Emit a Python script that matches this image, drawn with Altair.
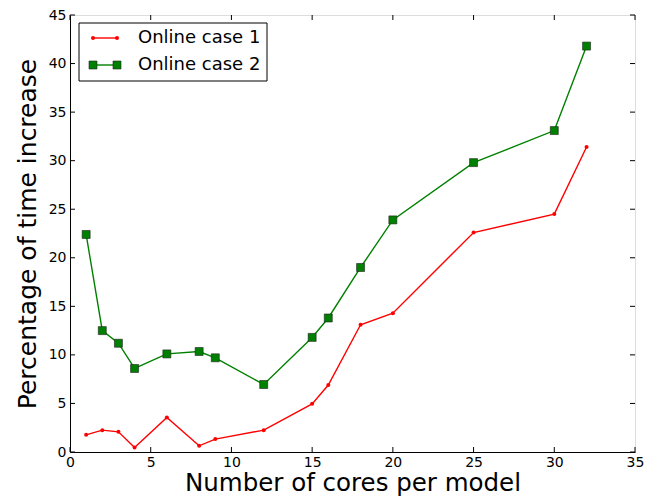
import altair as alt
import pandas as pd

# ---- data ----
cores = [1, 2, 3, 4, 6, 8, 9, 12, 15, 16, 18, 20, 25, 30, 32]
case1 = [1.77, 2.25, 2.08, 0.47, 3.56, 0.64, 1.33, 2.25, 4.96, 6.9, 13.1, 14.3, 22.6, 24.5, 31.4]
case2 = [22.4, 12.5, 11.2, 8.6, 10.1, 10.35, 9.7, 6.95, 11.8, 13.8, 19.0, 23.9, 29.8, 33.1, 41.8]
series_names = ["Online case 1", "Online case 2"]
red, green = "#ff0000", "#008000"
x_ticks = [0, 5, 10, 15, 20, 25, 30, 35]
y_ticks = [0, 5, 10, 15, 20, 25, 30, 35, 40, 45]

W, H = 565, 437
FONT = "DejaVu Sans"

df1 = pd.DataFrame({"cores": cores, "pct": case1})
df2 = pd.DataFrame({"cores": cores, "pct": case2})
xt = pd.DataFrame({"cores": x_ticks})
yt = pd.DataFrame({"pct": y_ticks})

xs = alt.Scale(domain=[0, 35], nice=False, zero=False)
ys = alt.Scale(domain=[0, 45], nice=False, zero=False)

xenc = alt.X("cores:Q", scale=xs, axis=alt.Axis(
    values=x_ticks, title="Number of cores per model", ticks=False, grid=False,
    labelFontSize=14, titleFontSize=24.5, labelPadding=3, titlePadding=2,
    labelFlush=False, labelOverlap=False, domainColor="black", labelColor="black",
    titleColor="black", titleFontWeight="normal", labelFont=FONT, titleFont=FONT))
yenc = alt.Y("pct:Q", scale=ys, axis=alt.Axis(
    values=y_ticks, title="Percentage of time increase", ticks=False, grid=False,
    labelFontSize=14, titleFontSize=25, labelPadding=4, titlePadding=8,
    labelFlush=False, labelOverlap=False, domainColor="black", labelColor="black",
    titleColor="black", titleFontWeight="normal", labelFont=FONT, titleFont=FONT))

line1 = alt.Chart(df1).mark_line(color=red, strokeWidth=1.4).encode(x=xenc, y=yenc)
pts1 = alt.Chart(df1).mark_point(shape="circle", filled=True, color=red, size=16, opacity=1).encode(x=xenc, y=yenc)
line2 = alt.Chart(df2).mark_line(color=green, strokeWidth=1.4).encode(x=xenc, y=yenc)
pts2 = alt.Chart(df2).mark_point(shape="square", filled=True, fill=green, stroke="#222222",
                                 strokeWidth=0.6, size=64, opacity=1).encode(x=xenc, y=yenc)

# inward ticks on all four sides
tb = alt.Chart(xt).mark_rule(color="black", strokeWidth=1).encode(x=xenc, y=alt.value(H), y2=alt.value(H - 5))
tt = alt.Chart(xt).mark_rule(color="black", strokeWidth=1).encode(x=xenc, y=alt.value(0), y2=alt.value(5))
tl = alt.Chart(yt).mark_rule(color="black", strokeWidth=1).encode(y=yenc, x=alt.value(0), x2=alt.value(5))
tr = alt.Chart(yt).mark_rule(color="black", strokeWidth=1).encode(y=yenc, x=alt.value(W), x2=alt.value(W - 5))

# legend
ld1 = pd.DataFrame({"name": [series_names[0]]})
ld2 = pd.DataFrame({"name": [series_names[1]]})
box = alt.Chart(ld1).mark_rect(fill="white", stroke="black", strokeWidth=1).encode(
    x=alt.value(9), x2=alt.value(197), y=alt.value(8), y2=alt.value(66))
r1y, r2y = 23, 50
lx0, lx1, tx = 23, 47, 68
leg = [box]
leg.append(alt.Chart(ld1).mark_rule(color=red, strokeWidth=1.4).encode(x=alt.value(lx0), x2=alt.value(lx1), y=alt.value(r1y)))
leg.append(alt.Chart(ld2).mark_rule(color=green, strokeWidth=1.4).encode(x=alt.value(lx0), x2=alt.value(lx1), y=alt.value(r2y)))
for xx in (lx0, lx1):
    leg.append(alt.Chart(ld1).mark_point(shape="circle", filled=True, color=red, size=16, opacity=1).encode(
        x=alt.value(xx), y=alt.value(r1y)))
    leg.append(alt.Chart(ld2).mark_point(shape="square", filled=True, fill=green, stroke="#222222",
                                         strokeWidth=0.6, size=64, opacity=1).encode(x=alt.value(xx), y=alt.value(r2y)))
leg.append(alt.Chart(ld1).mark_text(align="left", baseline="middle", font=FONT, fontSize=18, color="black").encode(
    x=alt.value(tx), y=alt.value(r1y), text="name:N"))
leg.append(alt.Chart(ld2).mark_text(align="left", baseline="middle", font=FONT, fontSize=18, color="black").encode(
    x=alt.value(tx), y=alt.value(r2y), text="name:N"))

chart = alt.layer(line1, line2, pts1, pts2, tb, tt, tl, tr, *leg).properties(
    width=W, height=H,
    autosize=alt.AutoSizeParams(type="none"),
    padding={"left": 62, "top": 7, "right": 11, "bottom": 44},
).configure_view(stroke="black", strokeWidth=1).configure(background="white")

chart.save("out.html", embed_options={"renderer": "svg", "actions": False})
